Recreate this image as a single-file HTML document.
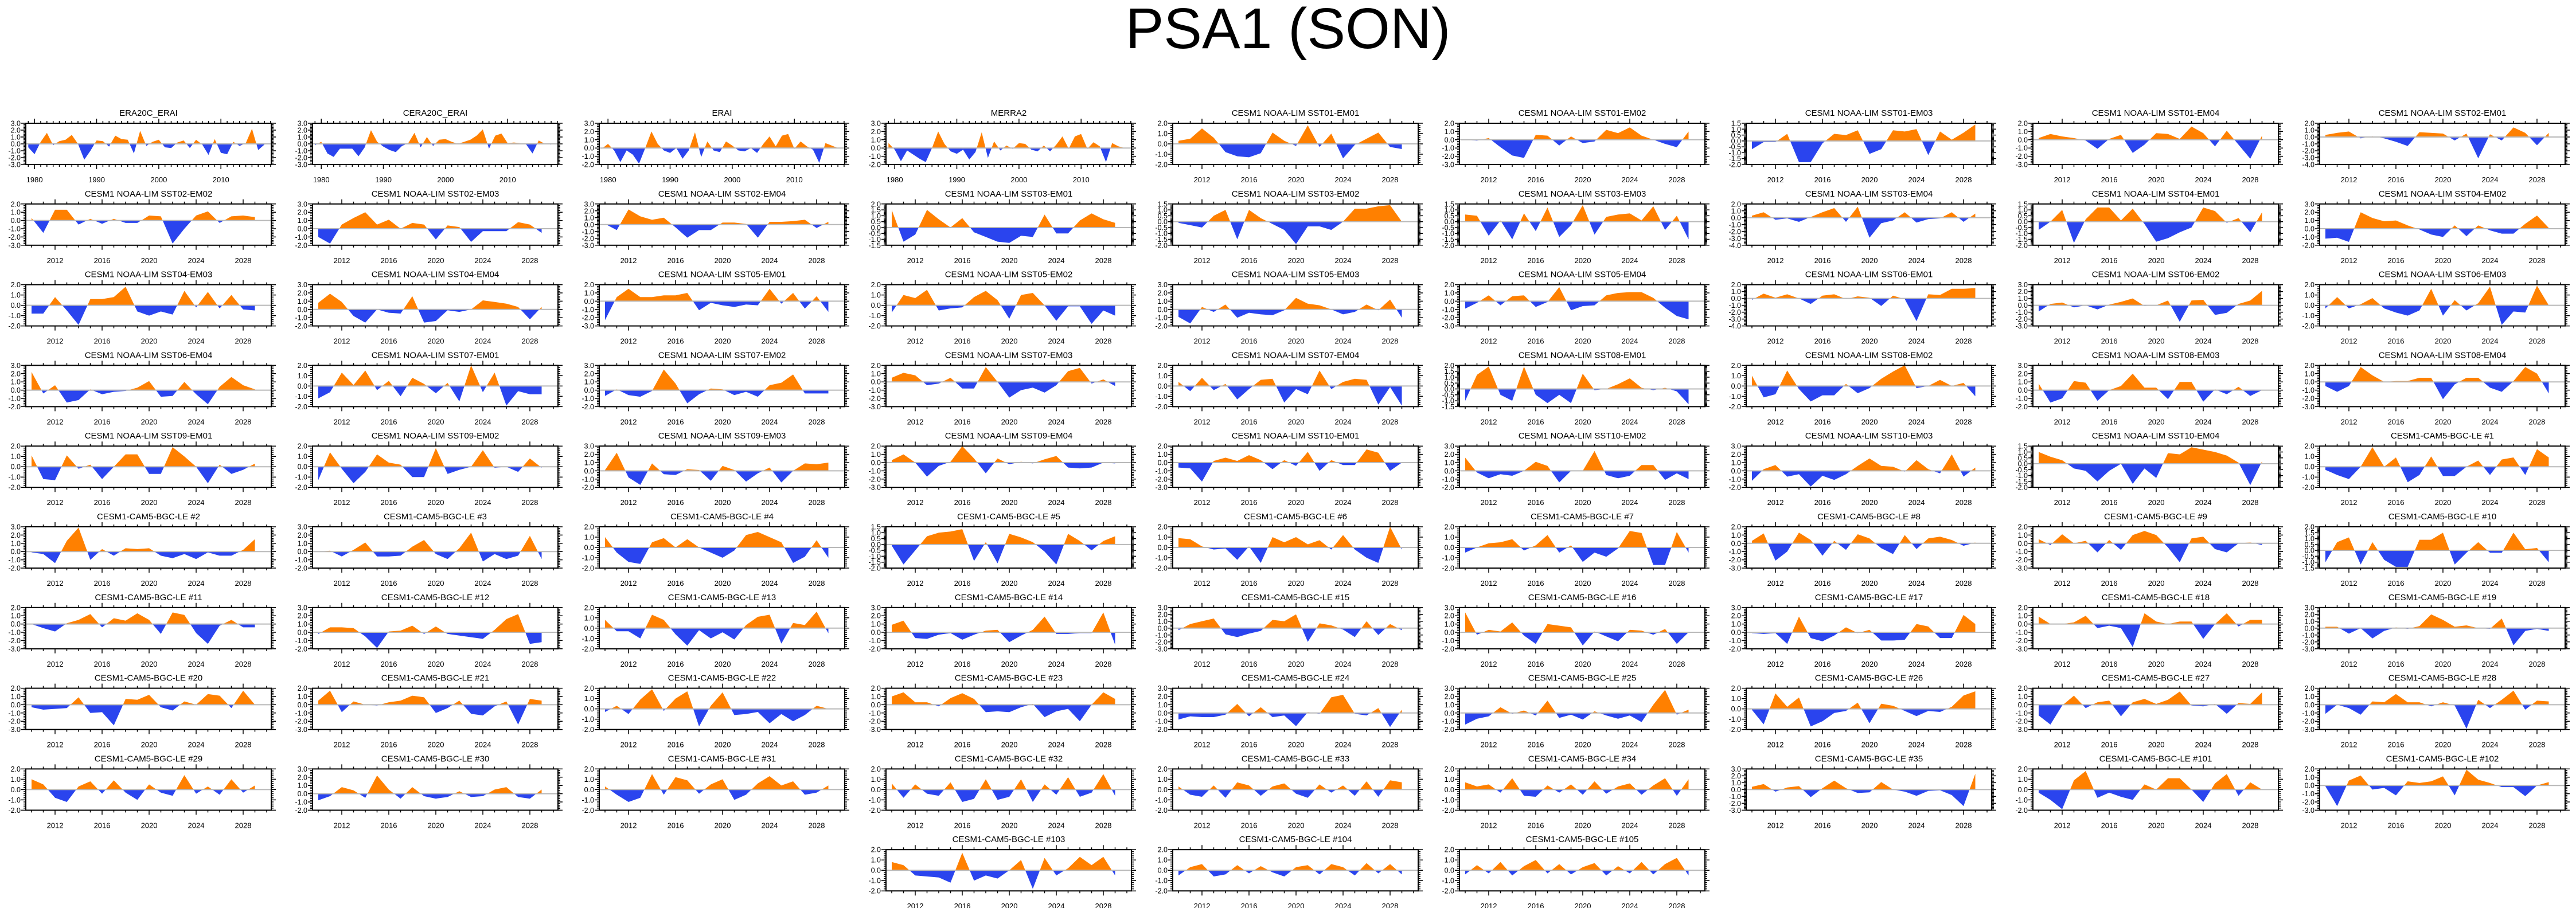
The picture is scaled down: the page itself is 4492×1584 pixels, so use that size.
<!DOCTYPE html>
<html><head><meta charset="utf-8">
<style>
html,body{margin:0;padding:0;background:#fff;}
svg{display:block;font-family:"Liberation Sans",Arial,sans-serif;}
</style></head>
<body>
<svg id="fig" width="4492" height="1584" viewBox="0 0 4492 1584" xmlns="http://www.w3.org/2000/svg">
<rect width="4492" height="1584" fill="#fff"/>
<text x="2246" y="84" font-size="100" text-anchor="middle" fill="#000">PSA1 (SON)</text>
</svg>
<script>
const titles = ["ERA20C_ERAI","CERA20C_ERAI","ERAI","MERRA2"];
for (let s=1;s<=10;s++){for(let e=1;e<=4;e++){titles.push("CESM1 NOAA-LIM SST"+String(s).padStart(2,"0")+"-EM"+String(e).padStart(2,"0"));}}
for (let k=1;k<=35;k++) titles.push("CESM1-CAM5-BGC-LE #"+k);
for (let k=101;k<=105;k++) titles.push("CESM1-CAM5-BGC-LE #"+k);

const reanalysisYears = [1979,2017];
const modelYears = [2010,2029];
const reanalysisTicks = [1980,1990,2000,2010];
const modelTicks = [2012,2016,2020,2024,2028];

const yMin = [-3,-3,-2,-2,-2,-3,-2,-3,-4, -3,-2,-3,-1.5,-2,-2,-4,-2,-2, -2,-2,-3,-2,-2,-3,-4,-3,-2, -2,-2,-2,-3,-2,-1.5,-2,-2,-3,
 -2,-2,-2,-3,-3,-2,-2,-2,-2, -2,-2,-2,-2,-2,-2,-3,-3,-1.5, -3,-2,-2,-2,-3,-2,-2,-3,-3, -3,-3,-2,-3,-2,-2,-2,-3,-3,
 -2,-2,-2,-2,-2,-2,-3,-2,-3, -2,-2,-2];
const yMax = [3,3,3,3,2,2,1.5,2,2, 2,3,3,2,1.5,1.5,2,1.5,3, 2,3,2,2,3,2,2,3,2, 3,2,3,2,2,2,2,3,2,
 2,2,3,2,2,3,3,1.5,2, 3,3,2,1.5,2,2,2,2,2, 2,3,2,3,3,3,3,2,3, 2,2,2,2,3,3,2,2,2,
 2,3,2,2,2,2,3,2,2, 2,2,2];

const series = [
[-0.5,-1.5,0.3,1.6,-0.2,0.4,0.6,1.3,0.0,-2.3,-1.0,0.5,0.4,-0.4,1.2,0.7,0.6,-1.4,1.9,-0.3,0.3,0.6,-0.5,-0.6,0.2,0.5,-0.6,0.6,-0.1,-1.6,0.7,-1.3,-1.5,0.3,-0.3,0.1,2.2,-0.9,-0.1],
[-0.2,0.3,-1.4,-1.9,-0.7,-0.7,-0.7,-1.8,-0.5,2.0,0.3,-0.4,-0.9,-1.2,-0.3,0.1,1.6,-0.5,1.0,-0.3,0.6,0.7,0.3,0.0,0.3,0.6,1.2,2.1,-0.7,1.2,1.5,0.1,0.2,0.1,-0.1,-1.4,0.5,0.0,-0.1],
[-0.1,0.5,-0.3,-1.7,-0.3,-0.8,-1.9,0.0,2.0,0.5,-0.3,-0.6,0.0,-1.3,-0.3,1.9,-1.1,0.8,-0.3,-0.5,0.8,0.3,-0.3,-0.4,0.0,-0.6,0.5,1.4,0.2,1.5,1.7,-0.1,0.8,0.2,-0.2,-1.8,0.6,0.3,0.0],
[0.6,-0.2,-1.6,-0.3,-0.8,-1.3,-1.7,0.0,2.0,0.5,-0.4,-0.7,-0.2,-1.4,-0.5,1.9,-1.2,0.8,-0.3,0.3,-0.1,0.6,0.5,-0.2,-0.4,0.3,-0.4,0.4,1.4,-0.1,1.4,1.7,-0.1,0.7,0.2,-1.7,0.6,0.2,0.0],
[0.3,0.5,1.5,0.6,-0.8,-1.2,-1.3,-0.9,1.1,0.3,-0.2,1.8,-0.3,1.0,-1.4,-0.1,0.5,1.1,-0.3,-0.5],
[0.0,-0.1,0.2,-0.9,-1.9,-2.2,0.6,0.5,-0.7,0.4,-0.4,-0.2,1.2,0.8,1.5,0.5,0.0,-0.5,-0.9,1.0],
[-0.7,-0.1,-0.1,0.6,-1.8,-1.8,-0.2,0.6,0.5,0.9,-1.1,-0.7,0.9,0.8,1.0,-1.2,0.8,0.1,0.7,1.4],
[0.2,0.7,0.4,0.2,-0.1,-1.1,0.1,0.6,-1.6,-0.6,0.8,0.7,0.1,1.6,0.8,-0.8,1.1,-0.6,-2.3,0.5],
[0.3,0.6,0.8,-0.2,0.1,-0.2,-0.7,-1.3,0.7,0.6,0.5,-0.5,0.5,-3.1,0.4,-0.5,1.4,0.6,-1.2,0.6],
[0.3,-1.5,1.3,1.3,-0.5,0.2,-0.4,0.2,-0.3,-0.3,0.6,0.5,-2.8,-1.0,0.6,1.1,-0.3,0.5,0.6,0.4],
[-1.0,-1.8,0.5,1.3,2.0,0.5,1.1,0.0,0.7,0.5,-1.3,0.4,0.2,-1.6,-0.3,-0.3,-0.3,0.8,0.5,-0.5],
[0.1,-0.8,2.2,1.2,0.7,1.0,-0.4,-1.9,-0.8,-0.8,0.3,0.3,0.1,-1.9,0.4,0.4,0.5,0.7,-0.5,0.4],
[1.5,-1.2,-0.6,1.5,0.7,0.0,0.8,-0.4,-0.8,-1.2,-1.3,-0.7,-0.8,1.1,-0.5,-0.5,0.6,1.2,0.7,0.4],
[-0.1,-0.3,-0.5,0.5,1.0,-1.5,1.0,0.3,-0.2,-0.7,-1.9,-0.4,-0.4,-0.7,0.0,1.1,1.1,1.3,1.4,0.0],
[0.6,0.5,-1.2,0.1,-1.5,0.7,-0.8,1.2,-1.3,-0.3,1.4,-1.1,0.4,0.6,0.7,0.1,1.3,-0.7,0.5,-1.5],
[0.3,0.8,-0.3,-0.1,-0.6,0.1,0.8,1.4,-0.6,1.6,-2.9,-0.8,-0.4,0.8,-0.7,-0.2,-0.1,0.8,-0.6,0.6],
[-0.7,0.0,1.0,-1.8,0.2,1.2,1.2,0.1,1.1,-0.2,-1.7,-1.4,-0.9,-0.5,1.2,0.9,-0.1,0.3,-0.9,0.8],
[-1.2,-1.1,-1.6,2.0,1.3,0.9,1.0,0.4,-0.1,-0.7,-1.0,0.4,-0.9,0.4,-0.2,-0.6,-0.6,0.6,1.6,0.1],
[-0.8,-0.8,0.8,-0.5,-1.9,0.6,0.6,0.8,1.8,-0.6,-1.0,-0.6,-0.9,1.4,-0.2,1.3,-0.3,1.0,-0.4,-0.5],
[0.8,1.9,0.9,-0.8,-1.6,0.0,-0.4,-0.5,1.6,-1.6,-1.4,-0.1,-0.3,0.0,1.1,0.9,0.7,0.3,-1.2,0.3],
[-2.3,0.5,1.5,0.5,0.5,0.7,0.7,1.0,-1.1,-0.2,-0.5,-0.7,-0.4,-0.5,1.5,-0.3,1.0,-0.9,0.6,-1.3],
[-0.7,1.0,0.7,1.5,-0.5,-0.3,-0.2,0.8,1.4,0.5,-1.3,1.0,1.2,0.0,-1.5,-0.1,-0.1,-1.8,-0.5,-1.0],
[-0.9,-1.7,0.3,-0.3,0.6,-1.0,-0.4,-0.6,-0.7,-0.1,1.4,0.7,0.5,0.0,-0.6,-0.3,0.6,-0.1,1.2,-1.0],
[-0.9,-0.2,0.7,-0.5,0.6,0.7,-0.7,-0.1,1.7,-1.1,-0.6,-0.5,0.7,1.0,1.1,1.1,0.4,-0.8,-1.8,-2.2],
[-0.2,0.7,0.1,0.6,0.0,-0.8,0.4,0.6,-0.1,0.3,0.1,-1.1,0.4,-0.1,-3.3,0.6,0.5,1.4,1.4,1.5],
[-0.9,0.2,0.4,-0.3,0.0,-0.6,0.1,0.5,1.0,-0.1,0.0,0.7,-2.4,0.7,0.8,-1.4,-1.1,0.2,0.7,2.1],
[-0.3,0.8,-0.3,0.1,0.7,-0.3,-0.7,-1.0,-0.5,1.6,-1.0,0.5,-0.5,0.2,1.8,-1.9,-0.6,-0.7,1.9,0.0],
[2.2,-0.4,0.6,-1.5,-1.2,0.1,-0.5,-0.2,-0.1,0.3,1.1,-0.8,-0.7,1.0,-0.5,-1.7,0.4,1.6,0.6,0.1],
[-1.2,-0.6,1.3,0.1,1.5,-0.4,0.5,-1.0,0.8,0.2,-0.7,0.3,-1.5,2.0,-0.6,1.3,-1.9,-0.5,-0.8,-0.8],
[-0.7,0.1,-0.6,-0.8,-0.1,2.5,0.8,-1.6,-0.5,0.2,0.1,-0.6,-0.2,-0.8,0.6,0.9,1.9,-0.4,-0.4,-0.4],
[0.5,1.1,0.8,-0.4,-0.2,0.5,-0.8,-0.8,1.8,0.0,-1.9,-1.0,-0.7,-1.3,-0.4,1.3,1.7,-0.2,0.3,-0.5],
[0.4,-0.5,0.8,-0.4,0.2,-1.3,-0.3,0.6,0.7,-1.6,-0.3,-0.8,1.5,-0.3,0.4,0.7,0.6,-1.8,-0.1,-1.9],
[-1.0,1.2,1.9,-0.5,-1.0,1.9,-0.5,-1.2,-0.5,-1.2,1.3,-0.1,0.0,0.4,0.9,0.1,-0.1,0.1,-0.2,-1.3],
[1.0,-1.1,-0.8,1.5,-0.3,-1.5,-0.9,-0.9,0.2,-0.7,-0.2,0.7,1.4,2.0,-0.2,0.0,0.6,0.0,0.3,-1.0],
[0.8,-1.5,-1.0,1.1,0.9,-1.3,0.0,0.5,2.0,0.3,0.3,-1.1,1.0,1.0,-1.4,0.1,-0.5,0.4,-0.7,0.0],
[-0.5,-1.2,-0.5,1.8,0.8,0.0,0.1,0.1,0.5,0.5,-2.1,-0.3,0.5,0.5,-0.7,-1.2,0.1,1.8,1.0,-1.4],
[1.1,-1.2,-1.3,1.1,-0.2,0.2,-1.2,0.0,1.2,1.2,-0.7,-0.7,1.9,1.0,0.0,-1.6,0.2,-0.7,-0.3,0.3],
[-1.3,1.4,-0.2,-1.6,-0.5,1.2,0.4,0.2,-1.0,-1.0,1.8,-0.7,-0.3,0.0,1.6,-0.1,0.0,-0.5,0.8,-0.1],
[0.1,2.2,-0.8,-1.7,0.9,-0.4,-0.5,0.2,0.1,-1.2,0.6,0.1,-1.3,-0.3,0.4,-1.4,0.0,0.9,0.8,1.0],
[0.3,1.0,0.0,-1.7,-0.4,0.1,2.0,0.5,-1.3,0.5,-0.2,0.1,-0.1,0.4,0.8,-0.6,-0.7,-0.6,0.0,-0.1],
[-0.6,-0.7,-2.3,0.2,0.6,0.2,0.9,0.3,-0.8,0.3,-0.4,1.3,-1.0,0.3,-0.3,-0.3,1.6,1.2,-1.0,0.0],
[1.6,-0.2,-0.9,-0.4,-0.6,0.0,1.1,0.6,-1.4,0.0,0.0,2.4,-0.5,-0.9,-0.6,0.7,0.7,-1.1,-0.3,-1.0],
[-1.2,0.2,0.7,-0.7,-0.4,-1.9,-0.6,-1.1,-0.4,0.6,1.5,0.6,0.5,-0.1,1.3,0.2,-0.3,2.0,-0.7,0.4],
[1.0,0.6,0.3,-0.4,-0.6,-1.5,-0.6,0.0,-1.7,-0.4,-1.2,0.9,0.8,1.4,1.2,1.0,0.7,0.1,-1.8,0.2],
[-0.3,-0.8,-1.2,0.0,1.9,0.0,0.9,-1.5,-0.8,1.0,-0.9,-0.9,0.0,0.6,-0.8,0.7,0.9,-0.8,1.7,0.9],
[-0.1,-0.3,-1.4,1.3,2.9,-1.0,0.3,-0.5,0.4,0.3,0.4,-0.5,-0.8,-0.3,-0.9,-0.1,-0.5,-0.5,0.2,1.5],
[0.0,0.1,-0.6,0.2,1.1,-0.6,-0.6,-0.5,0.6,1.4,-0.3,-0.9,0.4,2.3,-1.2,-0.3,-0.9,-0.5,1.9,-0.9],
[1.0,-0.5,-1.4,-1.6,0.5,0.9,0.0,0.8,0.0,-0.5,-1.0,-0.3,1.2,1.5,1.0,0.5,-1.5,-0.9,0.7,-1.0],
[-0.1,-1.7,-0.5,0.7,1.0,1.1,1.3,-1.4,0.2,-1.6,0.9,0.6,0.2,-0.6,-1.7,0.9,0.3,-0.5,0.3,0.7],
[0.9,0.8,0.1,-0.2,-0.1,-1.2,0.1,-1.5,1.0,0.5,1.0,0.3,0.7,-0.2,1.2,-0.2,-1.0,-1.5,2.0,-0.2],
[-0.5,0.0,0.4,0.5,0.8,-0.3,0.2,1.2,-0.5,0.2,-1.4,-0.5,-0.9,-0.1,1.6,1.4,-1.7,-1.7,1.5,-0.5],
[0.3,1.2,-2.1,-1.0,1.3,0.4,-1.5,0.3,-0.8,1.1,0.6,-0.6,-1.3,1.0,-0.7,0.6,0.8,0.4,-0.3,0.1],
[0.5,-0.2,1.1,0.0,0.3,-1.1,0.4,-0.8,1.0,1.5,1.0,-0.5,-2.3,0.6,0.8,-0.7,-1.1,0.0,0.1,-0.2],
[-1.0,0.7,1.1,-1.2,0.7,-0.8,-1.4,-1.4,0.9,0.9,1.5,-1.2,-0.2,0.7,-0.2,-0.2,1.5,0.1,0.2,-1.0],
[0.0,-0.5,-0.9,0.1,0.5,1.2,-0.4,0.7,0.4,1.3,0.5,-1.2,1.4,1.1,-1.1,-2.4,-0.2,0.5,-0.4,-0.4],
[-0.2,0.6,0.6,0.5,-0.5,-1.9,0.1,0.2,0.8,-0.2,0.7,-0.2,-0.4,-0.6,-0.8,0.3,1.6,2.2,-1.4,-1.2],
[0.8,-0.3,-0.3,-1.0,1.3,0.8,-0.6,-1.7,-0.2,-1.0,-0.4,-1.1,0.3,1.1,1.3,-1.5,0.5,0.3,1.6,-0.5],
[0.9,1.4,-0.7,-0.8,-0.3,-0.1,-0.9,-0.3,0.2,0.3,-1.2,-0.4,0.3,1.9,-0.2,-0.2,-0.1,-0.1,2.4,-1.5],
[-0.3,0.6,1.0,1.4,-0.9,-1.3,-0.8,-0.4,1.2,1.0,2.0,-2.0,0.7,0.4,-0.2,-1.3,1.0,-1.0,0.6,-0.3],
[2.4,-0.3,0.3,0.1,1.2,-0.4,-1.4,1.0,0.8,0.6,-1.6,0.1,-0.5,-1.1,0.3,0.2,-0.3,0.4,-1.4,0.0],
[-0.1,-0.2,-0.1,-1.4,1.9,-0.7,-1.1,-0.4,0.6,-0.1,0.3,-1.0,-1.0,-0.9,1.0,0.7,-0.7,-0.7,2.1,1.0],
[0.9,0.0,0.0,0.2,1.0,-0.5,-0.2,-0.5,-2.8,1.3,0.3,0.0,0.3,0.3,-1.8,0.0,1.3,-0.3,0.5,0.5],
[0.2,0.2,-0.8,0.0,-1.5,-0.4,0.1,-0.1,0.3,2.0,1.2,0.2,0.4,0.0,-0.1,1.4,-2.5,-0.4,-0.1,-0.4],
[-0.3,-0.6,-0.5,-0.4,0.9,-1.0,-0.9,-2.5,0.7,0.6,1.2,-0.3,-0.7,0.4,0.0,1.3,1.1,-0.4,1.7,0.0],
[0.5,1.7,-0.9,0.4,0.0,-0.1,0.3,0.5,1.1,0.9,-1.0,-0.4,0.5,-1.1,-1.3,-0.2,0.4,-2.4,0.7,0.5],
[-0.3,0.3,-0.5,0.9,1.9,-0.2,1.0,1.7,-1.7,0.3,1.6,-0.6,-0.5,-0.3,-1.4,-0.5,-1.2,-0.6,0.3,0.0],
[1.0,1.5,0.3,0.3,-0.2,0.8,1.4,0.7,-0.9,-0.8,-0.9,-0.3,0.1,-1.5,-0.8,-0.5,-2.0,0.0,1.5,0.7],
[-0.8,-0.4,-0.5,-0.5,-0.2,1.1,-0.4,0.7,-0.5,-0.3,-1.6,0.1,-0.1,1.9,2.2,-0.1,-0.3,0.6,-1.7,0.4],
[-1.4,-0.7,-0.4,0.7,-0.1,0.3,-0.3,1.5,-0.6,-0.2,-0.8,0.2,-0.3,-0.7,-0.3,-1.1,1.0,2.8,-0.2,0.4],
[-0.1,-1.5,1.5,0.2,1.1,-1.7,-1.2,-0.4,-0.2,0.6,-1.4,0.5,0.3,-0.2,-0.7,-0.2,-0.3,0.2,1.3,1.7],
[-1.3,-2.4,-0.1,1.1,-0.4,0.3,0.5,-1.4,0.3,0.7,0.1,0.6,1.6,-0.1,-0.2,0.1,-1.1,0.2,0.1,1.5],
[-1.1,0.0,-0.4,-1.2,0.4,0.3,1.3,0.3,0.3,-0.2,0.3,-0.1,-2.9,0.6,-0.4,0.6,1.7,-0.6,0.5,0.4],
[1.0,0.5,-0.8,-1.2,0.3,0.8,-0.4,0.9,-0.3,-1.0,0.5,-0.3,-0.6,1.4,-0.4,0.3,-0.5,1.0,-0.3,0.4],
[-0.8,-0.3,0.8,0.4,-0.5,2.2,0.5,-0.6,0.8,-0.3,-0.6,-0.4,0.3,-0.4,-0.3,0.5,0.8,-0.4,-0.6,0.5],
[0.3,-0.5,-1.2,-0.8,1.5,-0.5,1.2,0.9,-0.4,0.5,1.0,-1.0,-0.5,0.6,1.3,0.4,0.8,-0.5,-0.3,0.4],
[0.6,-0.8,0.5,-0.4,-0.6,0.7,-1.2,-0.9,1.0,-1.0,-0.7,1.0,-1.2,0.5,-0.5,1.2,-0.7,-0.3,1.5,-0.6],
[0.3,-0.5,-0.7,0.4,-0.8,0.7,0.4,-0.6,0.3,0.6,-0.4,-0.8,0.5,-0.3,0.4,-0.6,0.8,-0.7,0.9,0.7],
[0.7,0.3,0.5,-0.3,1.1,-0.6,-0.7,0.4,-0.3,0.5,-0.5,0.8,-0.4,0.3,0.6,-0.5,0.4,1.1,-0.6,1.0],
[0.4,0.8,-0.3,0.3,0.5,-1.1,0.2,1.3,0.2,-0.5,-0.4,1.1,0.0,-0.3,-0.9,-0.2,-0.1,-0.8,-2.4,2.3],
[-0.3,-1.0,-1.9,0.9,1.8,-0.8,-0.3,-0.7,-1.0,0.5,0.0,1.1,1.1,0.0,-1.2,0.6,1.5,-0.6,0.7,0.0],
[-0.1,-2.5,0.6,1.2,-0.5,-0.3,-1.2,0.5,0.3,0.5,1.1,-1.2,1.9,0.7,0.3,-0.2,-0.2,-1.3,0.0,0.4],
[0.8,0.5,-0.5,-0.6,-0.7,-1.2,1.7,-1.0,-0.5,-0.8,0.0,1.0,-1.8,1.2,-0.5,0.2,1.3,0.5,1.3,-0.5],
[-0.5,0.3,0.6,-0.6,-0.4,0.5,-0.3,0.4,-0.2,-0.6,0.3,0.5,-0.4,0.6,0.3,-0.5,0.7,-0.3,0.6,-0.4],
[-0.4,0.5,-0.3,0.8,-0.5,0.4,1.0,-0.3,0.6,-0.4,0.3,0.7,-0.5,0.4,-0.3,0.8,-0.4,0.6,1.2,-0.5]
];

const NS = "http://www.w3.org/2000/svg";
const svg = document.getElementById("fig");
function mk(tag, attrs, parent){const e=document.createElementNS(NS,tag);for(const k in attrs)e.setAttribute(k,attrs[k]);(parent||svg).appendChild(e);return e;}

const PW=428, PH=72;
function fmt(v){return (Math.abs(v)<1e-9?0:v).toFixed(1);}

titles.forEach((title,i)=>{
  let row=Math.floor(i/9), col=i%9;
  if(i>=81){row=9;col=3+(i-81);}
  const L=45+500*col, T=215+140.8*row;
  const isRe = i<4;
  const yr = isRe?reanalysisYears:modelYears;
  const xd = isRe?[1978.6,2018.1]:[2009.51,2030.39];
  const xs = v=>L+(v-xd[0])/(xd[1]-xd[0])*PW;
  const lo=yMin[i], hi=yMax[i];
  const ys = v=>T+PH-(v-lo)/(hi-lo)*PH;
  const g = mk("g",{});
  
  
  const t = mk("text",{x:L+PW/2,y:T-13,"font-size":15,"text-anchor":"middle",fill:"#000"},g);
  t.textContent=title;
  
  
  const vals=series[i];
  const y0=ys(0);
  let pts=xs(yr[0]).toFixed(1)+","+y0.toFixed(1)+" ";
  vals.forEach((v,k)=>{pts+=xs(yr[0]+k).toFixed(1)+","+ys(v).toFixed(1)+" ";});
  pts+=xs(yr[0]+vals.length-1).toFixed(1)+","+y0.toFixed(1);
  const cid="c"+i;
  const defs=mk("defs",{},g);
  const cp1=mk("clipPath",{id:cid+"a"},defs); mk("rect",{x:L,y:T,width:PW,height:y0-T},cp1);
  const cp2=mk("clipPath",{id:cid+"b"},defs); mk("rect",{x:L,y:y0,width:PW,height:T+PH-y0},cp2);
  const pos=mk("polygon",{points:pts,fill:"#ff8000","clip-path":"url(#"+cid+"a)"},g);
  
  
  const neg=mk("polygon",{points:pts,fill:"#2a44ee","clip-path":"url(#"+cid+"b)"},g);
  
  
  const zl=mk("line",{x1:L,x2:L+PW,y1:y0,y2:y0,stroke:"#b8b8b8","stroke-width":2},g);
  
  
  const fr=mk("rect",{x:L,y:T,width:PW,height:PH,fill:"none",stroke:"#000","stroke-width":2},g);
  
  
  // x ticks
  const ticks=isRe?reanalysisTicks:modelTicks;
  let tp="";
  for(let y=Math.ceil(xd[0]);y<=xd[1];y++){
    const x=xs(y).toFixed(1); const maj=ticks.includes(y); const len=maj?8:4;
    tp+=`M${x},${T+PH}v${len}M${x},${T}v${-len}`;
  }
  const step=(hi-lo)<=3.5?0.5:1, mstep=step/5;
  for(let k=0;k<=Math.round((hi-lo)/mstep);k++){
    const v=lo+k*mstep; const y=ys(v).toFixed(1); const maj=Math.abs(v/step-Math.round(v/step))<1e-6; const len=maj?8:4;
    tp+=`M${L},${y}h${-len}M${L+PW},${y}h${len}`;
  }
  mk("path",{d:tp,stroke:"#000","stroke-width":1.5,fill:"none"},g);
  ticks.forEach(y=>{
    const tx=mk("text",{x:xs(y),y:T+PH+31,"font-size":13,"text-anchor":"middle",fill:"#000"},g);
    tx.textContent=y;
    
    
  });
  for(let k=0;k<=Math.round((hi-lo)/step);k++){
    const v=lo+k*step;
    const ty=mk("text",{x:L-9,y:ys(v)+4.5,"font-size":12.5,"text-anchor":"end",fill:"#000"},g);
    ty.textContent=fmt(v);
    
    
  }
});
</script>
</body></html>
